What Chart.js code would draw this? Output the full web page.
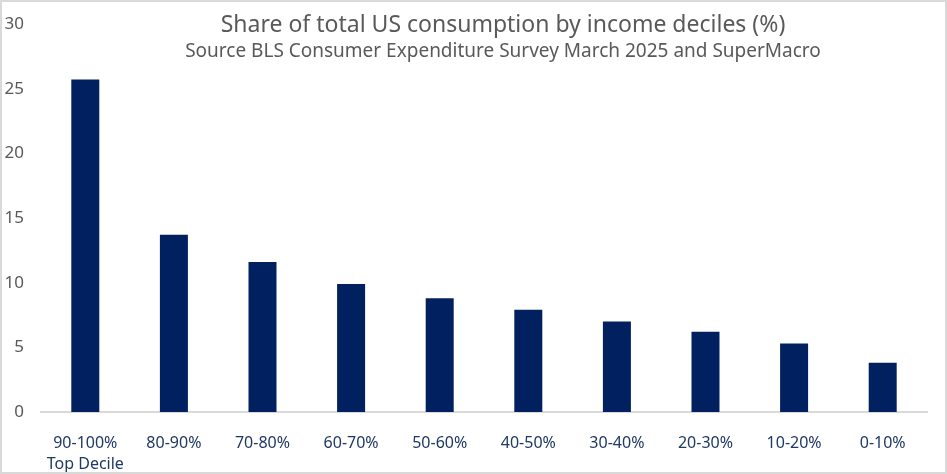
<!DOCTYPE html>
<html>
<head>
<meta charset="utf-8">
<script src="https://cdn.jsdelivr.net/npm/chart.js@4/dist/chart.umd.min.js"></script>
<style>
  html, body { margin: 0; padding: 0; background: #fff; }
  #frame {
    position: relative;
    width: 947px;
    height: 474px;
    box-sizing: border-box;
    border: 2px solid #d9d9d9;
    background: #fff;
    font-family: "Noto Sans", sans-serif;
  }
  #frame canvas { position: absolute; left: 0; top: 0; }
  .title, .subtitle {
    position: absolute;
    left: 501px;
    transform: translateX(-50%);
    white-space: nowrap;
    color: #595959;
  }
  .title { top: 8px; font-size: 23px; line-height: 26px; }
  .subtitle { top: 37px; font-size: 19px; line-height: 22px; }
</style>
</head>
<body>
<div id="frame">
  <canvas id="chart" width="943" height="470"></canvas>
  <div class="title">Share of total US consumption by income deciles (%)</div>
  <div class="subtitle">Source BLS Consumer Expenditure Survey March 2025 and SuperMacro</div>
</div>
<script>
// income deciles, richest first
const deciles = [['90-100%', 'Top Decile'], '80-90%', '70-80%', '60-70%', '50-60%',
                 '40-50%', '30-40%', '20-30%', '10-20%', '0-10%'];
// share of total consumption (%)
const shares = [25.7, 13.7, 11.6, 9.9, 8.8, 7.9, 7.0, 6.2, 5.3, 3.8];
const yTicks = [0, 5, 10, 15, 20, 25, 30];

const ctx = document.querySelector('#chart');
const shareChart = new Chart(ctx, {
    type: 'bar',
    data: {
        labels: deciles,
        datasets: [{
            label: 'Share of consumption',
            data: shares,
            backgroundColor: '#002060',
            barPercentage: 0.316,
            categoryPercentage: 1
        }]
    },
    options: {
        responsive: false,
        animation: false,
        layout: { padding: { top: 22, right: 18, left: 0, bottom: 0 } },
        plugins: {
            legend: { display: false },
            tooltip: { enabled: false },
            title: { display: false }
        },
        scales: {
            x: {
                grid: { color: 'transparent', drawTicks: false },
                border: { display: true, color: '#d9d9d9', width: 2 },
                ticks: {
                    color: '#1f3864',
                    padding: 21,
                    maxRotation: 0,
                    font: { family: 'Noto Sans', size: 16, lineHeight: 1.3 }
                },
                afterFit: (scale) => { scale.height = 60; }
            },
            y: {
                min: 0,
                max: 30,
                grid: { display: false, drawTicks: false },
                border: { display: false },
                afterBuildTicks: (scale) => { scale.ticks = yTicks.map(v => ({ value: v })); },
                ticks: {
                    color: '#595959',
                    padding: 17,
                    font: { family: 'Noto Sans', size: 17 }
                },
                afterFit: (scale) => {
                    // keep the plot edge where the reference has it
                    scale.width = 39;
                    scale.paddingTop = 0;
                    scale.paddingBottom = 0;
                }
            }
        }
    }
});
</script>
</body>
</html>
